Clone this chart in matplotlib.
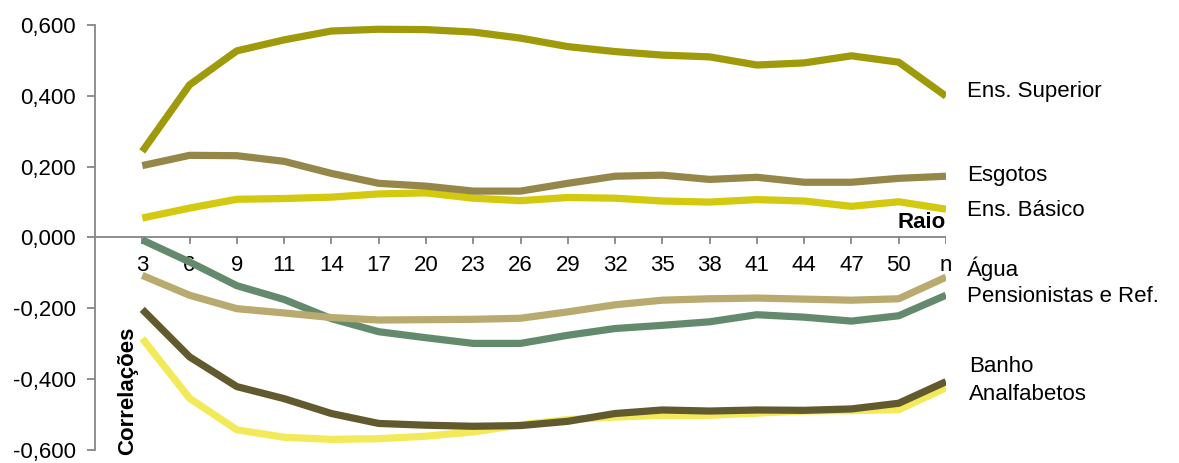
import matplotlib
matplotlib.use('Agg')
import matplotlib.pyplot as plt
from matplotlib.ticker import FuncFormatter

plt.rcParams['font.family'] = ['Liberation Sans', 'DejaVu Sans']

raios = ['3', '6', '9', '11', '14', '17', '20', '23', '26', '29', '32', '35',
         '38', '41', '44', '47', '50', 'n']

ens_superior = [0.243, 0.431, 0.527, 0.558, 0.583, 0.588, 0.587, 0.580, 0.563,
                0.539, 0.525, 0.515, 0.510, 0.487, 0.493, 0.513, 0.495, 0.399]
esgotos = [0.203, 0.232, 0.231, 0.215, 0.181, 0.153, 0.145, 0.131, 0.131,
           0.153, 0.173, 0.176, 0.164, 0.170, 0.156, 0.156, 0.167, 0.173]
ens_basico = [0.055, 0.083, 0.108, 0.110, 0.114, 0.123, 0.126, 0.111, 0.104,
              0.113, 0.111, 0.103, 0.100, 0.107, 0.103, 0.088, 0.101, 0.080]
pensionistas = [-0.007, -0.069, -0.136, -0.175, -0.229, -0.266, -0.283, -0.299, -0.299,
                -0.276, -0.257, -0.248, -0.238, -0.218, -0.225, -0.236, -0.221, -0.163]
agua = [-0.107, -0.163, -0.201, -0.213, -0.226, -0.233, -0.232, -0.231, -0.228,
        -0.210, -0.190, -0.177, -0.173, -0.171, -0.174, -0.177, -0.173, -0.112]
banho = [-0.203, -0.337, -0.421, -0.455, -0.497, -0.525, -0.530, -0.533, -0.531,
         -0.519, -0.497, -0.487, -0.490, -0.487, -0.488, -0.484, -0.468, -0.407]
analfabetos = [-0.285, -0.454, -0.543, -0.564, -0.570, -0.568, -0.561, -0.549, -0.529,
               -0.514, -0.507, -0.502, -0.502, -0.496, -0.490, -0.489, -0.486, -0.424]

# ordem de desenho: (serie, cor, rotulo, posicao y do rotulo)
series = [
    (ens_superior, '#9E9A0A', 'Ens. Superior', 0.411),
    (ens_basico, '#D3C90E', 'Ens. Básico', 0.077),
    (esgotos, '#958649', 'Esgotos', 0.176),
    (pensionistas, '#648A6E', 'Pensionistas e Ref.', -0.167),
    (agua, '#B9AA70', 'Água', -0.088),
    (analfabetos, '#F3EA5A', 'Analfabetos', -0.442),
    (banho, '#625A2F', 'Banho', -0.364),
]

FS = 16

fig = plt.figure(figsize=(11.79, 4.63), dpi=100)
ax = fig.add_axes([95 / 1179, 1 - 450 / 463, (946 - 95) / 1179, (450 - 25) / 463])

x = list(range(len(raios)))
for vals, cor, nome, ylab in series:
    ax.plot(x, vals, color=cor, linewidth=5.2, solid_capstyle='butt',
            solid_joinstyle='round', zorder=3)
    xl = 17.48 if nome in ('Banho', 'Analfabetos') else 17.44
    ax.text(xl, ylab, nome, fontsize=FS, va='center', ha='left', clip_on=False)

ax.set_xlim(-1, 17)
ax.set_ylim(-0.6, 0.6)
ax.set_yticks([-0.6, -0.4, -0.2, 0.0, 0.2, 0.4, 0.6])
ax.yaxis.set_major_formatter(FuncFormatter(lambda v, p: f'{v:.3f}'.replace('.', ',').replace('-0,000', '0,000')))

for s in ['top', 'right', 'bottom']:
    ax.spines[s].set_visible(False)
ax.spines['left'].set_color('#868686')
ax.spines['left'].set_linewidth(1.3)
ax.axhline(0, color='#868686', linewidth=1.3, zorder=0)

ax.tick_params(axis='y', direction='out', length=6, color='#868686', width=1.3,
               labelsize=FS, pad=8)
ax.set_xticks([])
for i, r in enumerate(raios):
    ax.plot([i, i], [0, -0.016], color='#868686', linewidth=1.3, zorder=0)
    ax.text(i, -0.049, r, fontsize=FS, ha='center', va='top', zorder=1)

ax.text(17, 0.012, 'Raio', fontsize=FS, fontweight='bold', ha='right', va='bottom', zorder=1)
ax.text(-0.3, -0.615, 'Correlações', fontsize=FS, fontweight='bold', rotation=90,
        ha='center', va='bottom', zorder=1)

fig.savefig('out.png', dpi=100)
